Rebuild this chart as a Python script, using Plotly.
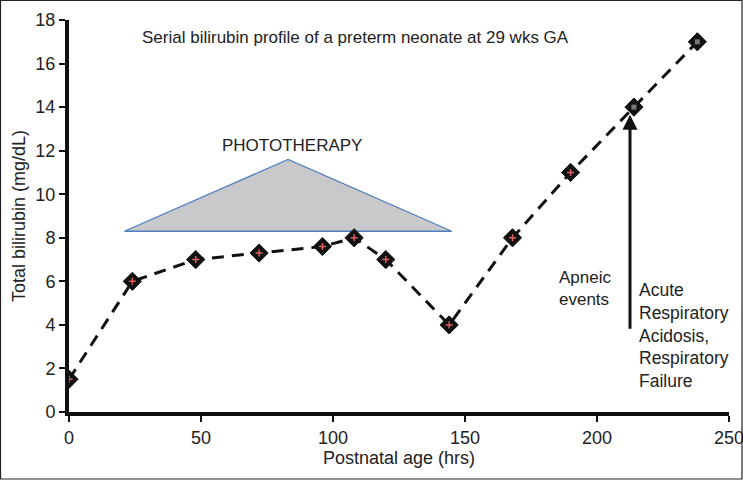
import plotly.graph_objects as go

hours = [0, 24, 48, 72, 96, 108, 120, 144, 168, 190, 214, 238]
bilirubin = [1.5, 6.0, 7.0, 7.3, 7.6, 8.0, 7.0, 4.0, 8.0, 11.0, 14.0, 17.0]

photo_x = [21, 83, 145, 21]
photo_y = [8.3, 11.6, 8.3, 8.3]

x_ticks = [0, 50, 100, 150, 200, 250]
y_ticks = [0, 2, 4, 6, 8, 10, 12, 14, 16, 18]

FONT = "Liberation Sans, Arial, sans-serif"
W, H = 743, 480
ML, MR, MT, MB = 69, 14, 20, 68
PW, PH = W - ML - MR, H - MT - MB

fig = go.Figure()

fig.add_trace(go.Scatter(
    x=photo_x, y=photo_y, mode="lines", fill="toself",
    fillcolor="#c9c9cb", line=dict(color="#4f7fbd", width=1.3),
    hoverinfo="skip", showlegend=False))

fig.add_trace(go.Scatter(
    x=hours, y=bilirubin, mode="lines+markers",
    line=dict(color="#111111", width=3, dash="12px,8px"),
    marker=dict(symbol="diamond", size=14, color="#111111",
                line=dict(color="#111111", width=1)),
    showlegend=False))

fig.add_trace(go.Scatter(
    x=hours[:-2], y=bilirubin[:-2], mode="markers",
    marker=dict(symbol="cross-thin", size=5, color="#e06060",
                line=dict(color="#e06060", width=1.5)),
    showlegend=False, hoverinfo="skip"))

fig.add_trace(go.Scatter(
    x=hours[-2:], y=bilirubin[-2:], mode="markers",
    marker=dict(symbol="square", size=5, color="#777777"),
    showlegend=False, hoverinfo="skip"))

# arrow
fig.add_annotation(x=212.5, y=13.65, ax=212.5, ay=3.75, xref="x", yref="y",
                   axref="x", ayref="y", showarrow=True, arrowhead=2,
                   arrowsize=1, arrowwidth=3, arrowcolor="#111111", text="")

annots = [
    dict(text="Serial bilirubin profile of a preterm neonate at 29 wks GA", x=140, y=37, anchor="left", size=17),
    dict(text="PHOTOTHERAPY", x=292, y=145, anchor="center", size=17),
    dict(text="Apneic<br>events", x=557, y=288, anchor="left", size=17),
    dict(text="Acute<br>Respiratory<br>Acidosis,<br>Respiratory<br>Failure", x=637, y=335, anchor="left", size=17.5),
]
for a in annots:
    fig.add_annotation(
        x=(a["x"] - ML) / PW, y=1 - (a["y"] - MT) / PH, xref="paper", yref="paper",
        text=a["text"], showarrow=False, xanchor=a["anchor"], yanchor="middle",
        align="left" if a["anchor"] == "left" else "center",
        font=dict(family=FONT, size=a["size"], color="#222222"))

# border around the whole image
fig.add_shape(type="rect", xref="paper", yref="paper",
              x0=(0.5 - ML) / PW, x1=(W - 1 - ML) / PW,
              y0=1 - (H - 1 - MT) / PH, y1=1 - (0.5 - MT) / PH,
              line=dict(color="#222222", width=1.2), layer="above")

axis_common = dict(showgrid=False, zeroline=False, showline=True,
                   linecolor="#111111", linewidth=4, ticks="outside",
                   ticklen=6, tickwidth=2, tickcolor="#111111",
                   automargin=False, ticklabeloverflow="allow",
                   tickfont=dict(family=FONT, size=18, color="#222222"))

fig.update_layout(
    width=W, height=H,
    margin=dict(l=ML, r=MR, t=MT, b=MB),
    paper_bgcolor="white", plot_bgcolor="white",
    xaxis=dict(range=[0, 250], tickvals=x_ticks,
               title=dict(text="Postnatal age (hrs)", standoff=6,
                          font=dict(family=FONT, size=18, color="#222222")),
               **axis_common),
    yaxis=dict(range=[0, 18], tickvals=y_ticks,
               title=dict(text="Total bilirubin (mg/dL)", standoff=6,
                          font=dict(family=FONT, size=18, color="#222222")),
               **axis_common),
)

fig.write_html("out.html", config={"displayModeBar": False},
               post_script="document.body.style.margin='0px';document.body.style.overflow='hidden';")
